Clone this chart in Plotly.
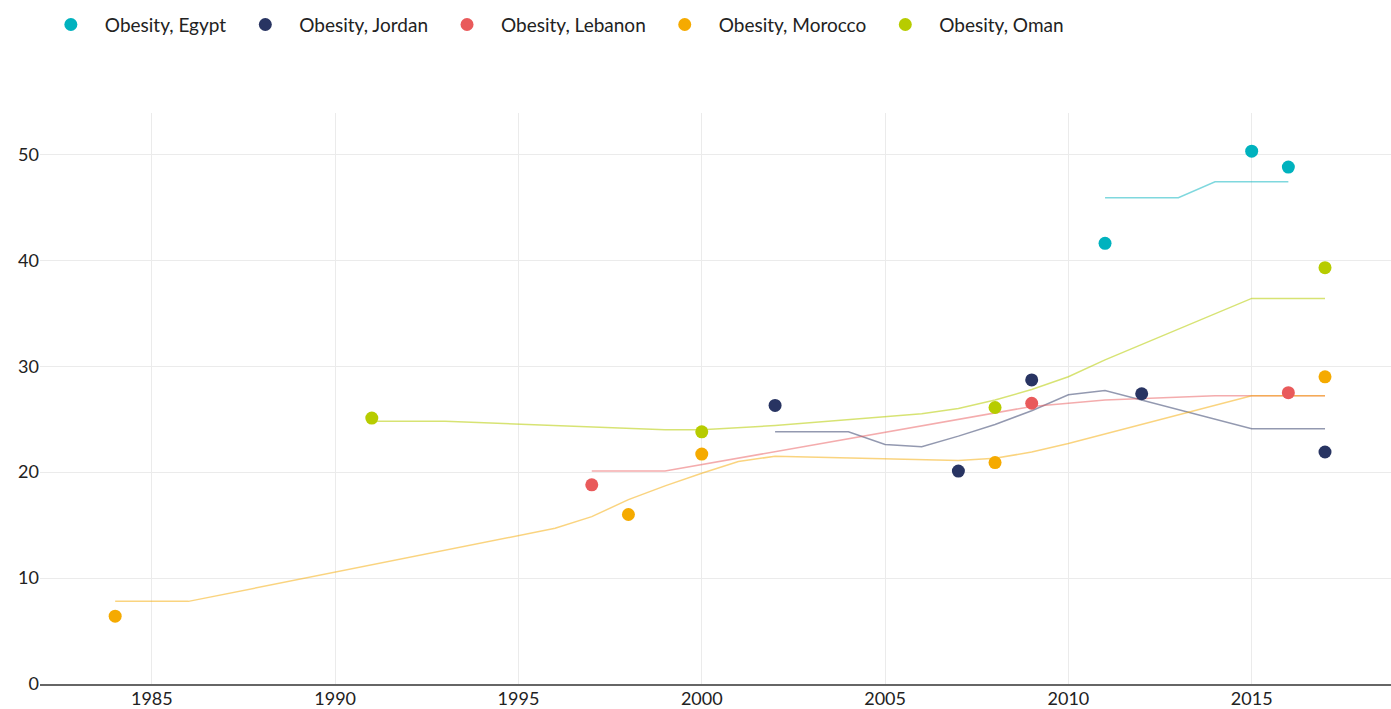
import plotly.graph_objects as go

# Survey points
egypt_years = [2011, 2015, 2016]
egypt_vals = [41.6, 50.3, 48.8]
jordan_years = [2002, 2007, 2009, 2012, 2017]
jordan_vals = [26.3, 20.1, 28.7, 27.4, 21.9]
lebanon_years = [1997, 2009, 2016]
lebanon_vals = [18.8, 26.5, 27.5]
morocco_years = [1984, 1998, 2000, 2008, 2017]
morocco_vals = [6.4, 16.0, 21.7, 20.9, 29.0]
oman_years = [1991, 2000, 2008, 2017]
oman_vals = [25.1, 23.8, 26.1, 39.3]

# Trend lines
egypt_tr_years = [2011, 2013, 2014, 2016]
egypt_tr_vals = [45.9, 45.9, 47.4, 47.4]
jordan_tr_years = [2002, 2004, 2005, 2006, 2007, 2008, 2009, 2010, 2011, 2015, 2017]
jordan_tr_vals = [23.8, 23.8, 22.6, 22.4, 23.4, 24.5, 25.8, 27.3, 27.7, 24.1, 24.1]
lebanon_tr_years = [1997, 1999, 2009, 2010, 2011, 2014, 2017]
lebanon_tr_vals = [20.1, 20.1, 26.2, 26.5, 26.8, 27.2, 27.2]
morocco_tr_years = [1984, 1986, 1996, 1997, 1998, 1999, 2000, 2001, 2002, 2007, 2008, 2009, 2010, 2015, 2017]
morocco_tr_vals = [7.8, 7.8, 14.7, 15.8, 17.4, 18.7, 19.9, 21.0, 21.5, 21.1, 21.3, 21.9, 22.7, 27.2, 27.2]
oman_tr_years = [1991, 1993, 1999, 2000, 2002, 2005, 2006, 2007, 2008, 2009, 2010, 2011, 2015, 2017]
oman_tr_vals = [24.8, 24.8, 24.0, 24.0, 24.4, 25.2, 25.5, 26.0, 26.8, 27.8, 29.0, 30.6, 36.4, 36.4]

x_ticks = [1985, 1990, 1995, 2000, 2005, 2010, 2015]
y_ticks = [0, 10, 20, 30, 40, 50]

series = [
    ("Obesity, Egypt", "#00B2BE", "rgba(0,178,190,0.5)", egypt_years, egypt_vals, egypt_tr_years, egypt_tr_vals),
    ("Obesity, Jordan", "#283462", "rgba(40,52,98,0.5)", jordan_years, jordan_vals, jordan_tr_years, jordan_tr_vals),
    ("Obesity, Lebanon", "#E95A5B", "rgba(233,90,91,0.5)", lebanon_years, lebanon_vals, lebanon_tr_years, lebanon_tr_vals),
    ("Obesity, Morocco", "#F5AA00", "rgba(245,170,0,0.5)", morocco_years, morocco_vals, morocco_tr_years, morocco_tr_vals),
    ("Obesity, Oman", "#B7CC00", "rgba(183,204,0,0.55)", oman_years, oman_vals, oman_tr_years, oman_tr_vals),
]

fig = go.Figure()
for name, col, lcol, xs, ys, txs, tys in series:
    fig.add_trace(go.Scatter(x=txs, y=tys, mode="lines", line=dict(color=lcol, width=1.5),
                             showlegend=False, hoverinfo="skip", legendgroup=name))
for name, col, lcol, xs, ys, txs, tys in series:
    fig.add_trace(go.Scatter(x=xs, y=ys, mode="markers", name=name,
                             marker=dict(color=col, size=13), legendgroup=name))

fig.update_layout(
    width=1391, height=709,
    margin=dict(l=40, r=0, t=113, b=25),
    paper_bgcolor="white", plot_bgcolor="white",
    font=dict(family="Lato, 'Noto Sans', sans-serif", size=18, color="#222"),
    legend=dict(orientation="h", x=0.0265, xanchor="left", y=0.992, yanchor="top", yref="container",
                xref="container", itemwidth=58, font=dict(size=19, color="#222")),
    xaxis=dict(range=[1981.95, 2018.8], tickvals=x_ticks, showgrid=True, gridcolor="#ebebeb",
               gridwidth=1, zeroline=False, showline=True, linecolor="#666", linewidth=2,
               ticks="", automargin=False, ticklabelstandoff=-3,
               tickfont=dict(size=18, color="#222")),
    yaxis=dict(range=[0, 53.9], tickvals=y_ticks, showgrid=True, gridcolor="#ebebeb",
               gridwidth=1, zeroline=False, showline=False, ticks="", automargin=False,
               tickfont=dict(size=18, color="#222")),
)

fig.write_html("out.html", config={"displayModeBar": False},
               post_script="document.body.style.margin='0';document.body.style.overflow='hidden';")
